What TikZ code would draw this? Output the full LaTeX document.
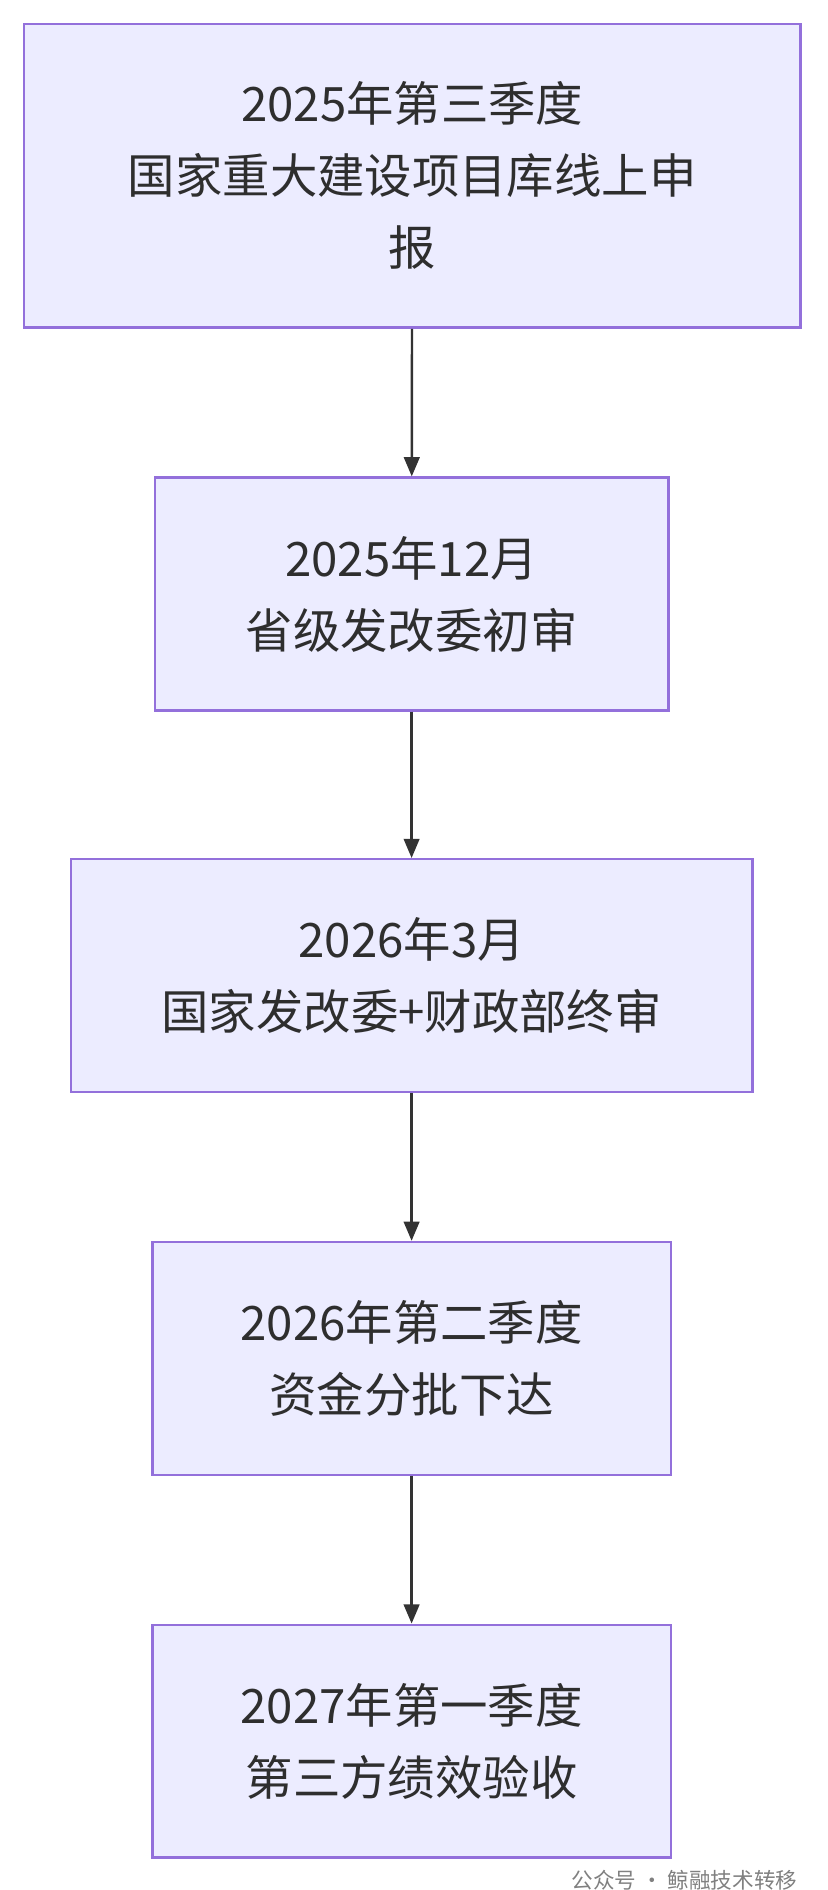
\documentclass[tikz,border=0pt]{standalone}
\usepackage{fontspec}
\setmainfont{Noto Sans CJK SC}
\usetikzlibrary{arrows.meta}
\definecolor{boxfill}{HTML}{ECECFF}
\definecolor{boxline}{HTML}{9370DB}
\definecolor{edge}{HTML}{333333}
\tikzset{
  stage/.style={draw=boxline, fill=boxfill, line width=2pt, align=center,
    inner sep=0pt, font=\fontsize{39.5}{60}\selectfont, text=edge!90!black},
  flow/.style={draw=edge, line width=2pt, -{Triangle[length=16pt,width=13pt]}}
}
\begin{document}
\begin{tikzpicture}[x=1pt,y=-1pt]
    \useasboundingbox (0,0) rectangle (690,1575);
    \node[stage, minimum width=647, minimum height=253] (q3) at (343.5,146.5)
      {2025年第三季度\\国家重大建设项目库线上申\\报};
    \node[stage, minimum width=428, minimum height=194] (dec) at (343,495)
      {2025年12月\\省级发改委初审};
    \node[stage, minimum width=568, minimum height=194] (mar) at (343,813)
      {2026年3月\\国家发改委+财政部终审};
    \node[stage, minimum width=432, minimum height=194] (fund) at (343,1132)
      {2026年第二季度\\资金分批下达};
    \node[stage, minimum width=432, minimum height=194] (check) at (343,1451)
      {2027年第一季度\\第三方绩效验收};
    \draw[flow] (q3) -- (dec);
    \draw[flow] (dec) -- (mar);
    \draw[flow] (mar) -- (fund);
    \draw[flow] (fund) -- (check);
    \node[text=gray, font=\fontsize{18}{20}\selectfont, anchor=east] (mark) at (668,1567)
      {公众号 · 鲸融技术转移};
  \end{tikzpicture}
\end{document}
